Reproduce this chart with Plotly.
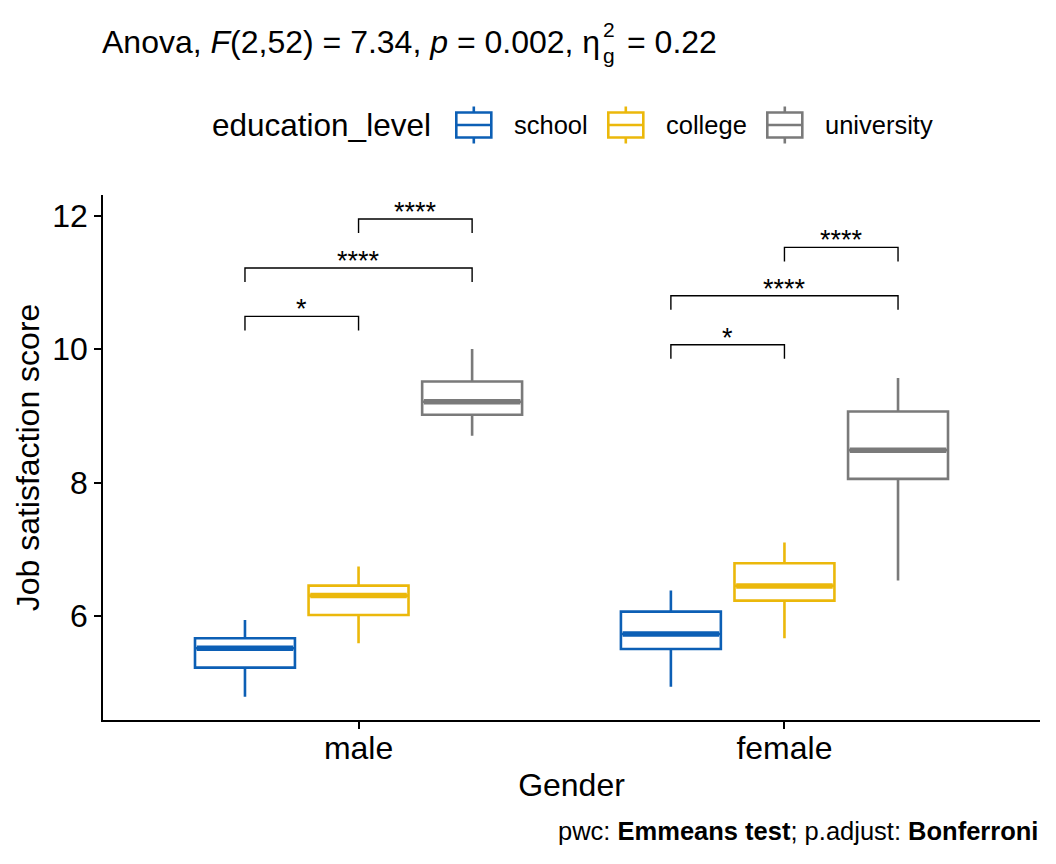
import plotly.graph_objects as go

# ---- data ----
genders = ["male", "female"]
levels = ["school", "college", "university"]
colors = ["#0C5FB5", "#EBB80B", "#7A7A7A"]

lower = {"school": [4.79, 4.94], "college": [5.59, 5.665], "university": [8.70, 6.53]}
q1 = {"school": [5.225, 5.505], "college": [6.015, 6.23], "university": [9.015, 8.055]}
median = {"school": [5.515, 5.73], "college": [6.305, 6.45], "university": [9.21, 8.485]}
q3 = {"school": [5.665, 6.065], "college": [6.455, 6.79], "university": [9.515, 9.065]}
upper = {"school": [5.94, 6.38], "college": [6.74, 7.10], "university": [10.0, 9.565]}

# pairwise comparisons: (gender, group1, group2, y position, label)
pwc_gender = ["male", "male", "male", "female", "female", "female"]
pwc_g1 = ["school", "school", "college", "school", "school", "college"]
pwc_g2 = ["college", "university", "university", "college", "university", "university"]
pwc_y = [10.49, 11.215, 11.95, 10.065, 10.8, 11.525]
pwc_label = ["*", "****", "****", "*", "****", "****"]

FONT = "Liberation Sans, Arial, sans-serif"
BOXGAP = 0.2
BOXGROUPGAP = 0.12
W, H = 1056, 864
ML, MR, MT, MB = 103, 16, 195, 144
PW, PH = W - ML - MR, H - MT - MB


def px(x):  # page pixel -> paper x
    return (x - ML) / PW


def py(y):  # page pixel -> paper y
    return (H - MB - y) / PH


fig = go.Figure()
for lev, col in zip(levels, colors):
    fig.add_trace(go.Box(
        name=lev, x=genders, q1=q1[lev], median=median[lev], q3=q3[lev],
        lowerfence=lower[lev], upperfence=upper[lev],
        line=dict(color=col, width=2.6), fillcolor="white",
        whiskerwidth=0, boxpoints=False, hoverinfo="skip", showlegend=False,
    ))

# dodge geometry identical to plotly's grouped box layout
n = len(levels)
slot = (1 - BOXGAP) / n
half_w = 0.5 * (1 - BOXGAP) * (1 - BOXGROUPGAP) / n


def xpos(g, lev):
    return genders.index(g) + (levels.index(lev) - (n - 1) / 2) * slot


shapes = []
# thicker median lines (as in ggplot)
for lev, col in zip(levels, colors):
    for g, m in zip(genders, median[lev]):
        xc = xpos(g, lev)
        shapes.append(dict(type="line", xref="x", yref="y", x0=xc - half_w + 0.004,
                           x1=xc + half_w - 0.004, y0=m, y1=m,
                           line=dict(color=col, width=5.5), layer="above"))

tip = 0.21
annotations = []
for g, a, b, y, lab in zip(pwc_gender, pwc_g1, pwc_g2, pwc_y, pwc_label):
    xa, xb = xpos(g, a), xpos(g, b)
    shapes.append(dict(type="path", xref="x", yref="y",
                       path=f"M {xa},{y - tip} L {xa},{y} L {xb},{y} L {xb},{y - tip}",
                       line=dict(color="black", width=1.4)))
    annotations.append(dict(x=(xa + xb) / 2, y=y, xref="x", yref="y", text=lab,
                            showarrow=False, yanchor="bottom", yshift=-10,
                            font=dict(size=27, color="black", family=FONT)))

# ---- legend (ggplot style, drawn in page layout) ----
LEG_Y = 125
icon_left = [455, 607, 766]
ICON_W, BOX_H, WHISK_H = 35, 25, 37
annotations.append(dict(x=px(433), y=py(LEG_Y), xref="paper", yref="paper",
                        xanchor="right", yanchor="middle", text="education_level",
                        showarrow=False, font=dict(size=31.5, family=FONT, color="black")))
for lev, col, xl in zip(levels, colors, icon_left):
    x0, x1 = xl + 1.3, xl + 1.3 + ICON_W
    xc = (x0 + x1) / 2
    shapes.append(dict(type="rect", xref="paper", yref="paper",
                       x0=px(x0), x1=px(x1), y0=py(LEG_Y - BOX_H / 2), y1=py(LEG_Y + BOX_H / 2),
                       line=dict(color=col, width=2.6), fillcolor="white"))
    shapes.append(dict(type="line", xref="paper", yref="paper",
                       x0=px(x0), x1=px(x1), y0=py(LEG_Y), y1=py(LEG_Y),
                       line=dict(color=col, width=2.6)))
    for s in (-1, 1):
        shapes.append(dict(type="line", xref="paper", yref="paper",
                           x0=px(xc), x1=px(xc), y0=py(LEG_Y + s * BOX_H / 2),
                           y1=py(LEG_Y + s * WHISK_H / 2),
                           line=dict(color=col, width=2.6)))
    annotations.append(dict(x=px(xl + 57), y=py(LEG_Y), xref="paper", yref="paper",
                            xanchor="left", yanchor="middle", text=lev, showarrow=False,
                            font=dict(size=25.5, family=FONT, color="black")))

# ---- title: eta with stacked subscript g and superscript 2 ----
TITLE_Y = 42
annotations.append(dict(x=px(ML - 3), y=py(TITLE_Y), xref="paper", yref="paper",
                        xanchor="left", yanchor="middle", showarrow=False,
                        text="Anova, <i>F</i>(2,52) = 7.34, <i>p</i> = 0.002, η",
                        font=dict(size=32, family=FONT, color="black")))
annotations.append(dict(x=px(601), y=py(55), xref="paper", yref="paper",
                        xanchor="left", yanchor="middle", text="g", showarrow=False,
                        font=dict(size=21, family=FONT, color="black")))
annotations.append(dict(x=px(601), y=py(29), xref="paper", yref="paper",
                        xanchor="left", yanchor="middle", text="2", showarrow=False,
                        font=dict(size=21, family=FONT, color="black")))
annotations.append(dict(x=px(625), y=py(TITLE_Y), xref="paper", yref="paper",
                        xanchor="left", yanchor="middle", text="= 0.22", showarrow=False,
                        font=dict(size=32, family=FONT, color="black")))

annotations.append(dict(
    x=1, y=py(831), xref="paper", yref="paper", xanchor="right", yanchor="middle",
    text="pwc: <b>Emmeans test</b>; p.adjust: <b>Bonferroni</b>", showarrow=False,
    font=dict(size=25.5, color="black", family=FONT)))

fig.update_layout(
    width=W, height=H,
    margin=dict(l=ML, r=MR, t=MT, b=MB),
    paper_bgcolor="white", plot_bgcolor="white",
    boxmode="group", boxgap=BOXGAP, boxgroupgap=BOXGROUPGAP,
    font=dict(family=FONT, color="black", size=24),
    showlegend=False,
    xaxis=dict(type="category", categoryorder="array", categoryarray=genders,
               range=[-0.6, 1.6], showline=True, linecolor="black", linewidth=1.6,
               ticks="outside", ticklen=7, tickwidth=1.6, tickcolor="black",
               tickfont=dict(size=32), showgrid=False, zeroline=False,
               ticklabelstandoff=-8,
               title=dict(text="Gender", font=dict(size=32), standoff=8)),
    yaxis=dict(range=[4.44, 12.31], tickvals=[6, 8, 10, 12], showline=True,
               linecolor="black", linewidth=1.6, ticks="outside", ticklen=7,
               tickwidth=1.6, tickcolor="black", tickfont=dict(size=32),
               showgrid=False, zeroline=False,
               title=dict(text="Job satisfaction score", font=dict(size=32), standoff=3)),
    shapes=shapes, annotations=annotations,
)

fig.write_html("out.html")
